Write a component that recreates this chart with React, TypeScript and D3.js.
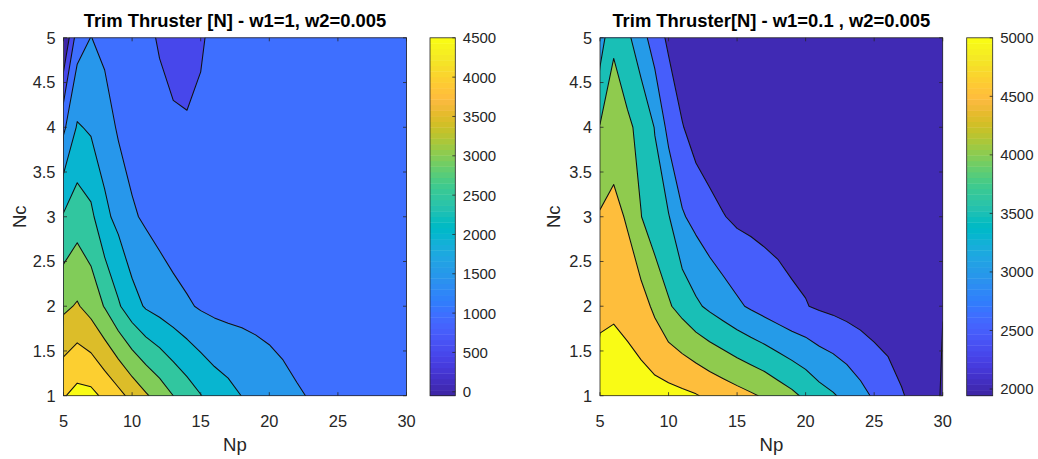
import React from "react";
import * as d3 from "d3";

// ---------- data ----------
const npValues = [5, 6, 7, 8, 9, 10, 11, 12, 13, 14, 15, 16, 17, 18, 19, 20, 21, 22, 23, 24, 25, 26, 27, 28, 29, 30];
const ncValues = [1, 2, 3, 4, 5];

// Left panel (w1=1, w2=0.005): one array per Nc row, values for Np = 5..30
const leftNc1 = [4460, 4656, 4632, 4400, 4150, 3850, 3560, 3290, 3000, 2754, 2517, 2300, 2160, 1991, 1886, 1781, 1676, 1570, 1460, 1420, 1390, 1370, 1350, 1330, 1320, 1310];
const leftNc2 = [3400, 3545, 3316, 2970, 2560, 2200, 1948, 1819, 1689, 1564, 1447, 1380, 1345, 1345, 1318, 1288, 1236, 1103, 1150, 1170, 1180, 1190, 1200, 1205, 1210, 1210];
const leftNc3 = [2550, 2776, 2614, 2115, 1860, 1560, 1431, 1304, 1178, 1100, 1150, 1200, 1220, 1230, 1240, 1245, 1250, 1240, 1235, 1240, 1250, 1255, 1260, 1265, 1270, 1270];
const leftNc4 = [1400, 2050, 1930, 1744, 1436, 1310, 1300, 1200, 1150, 1080, 1150, 1200, 1220, 1230, 1240, 1250, 1255, 1260, 1260, 1265, 1270, 1275, 1280, 1285, 1290, 1290];
const leftNc5 = [-50, 1270, 1510, 1363, 1250, 1230, 1150, 940, 650, 660, 908, 1200, 1220, 1230, 1240, 1250, 1260, 1265, 1270, 1275, 1280, 1285, 1290, 1295, 1300, 1300];

// Right panel (w1=0.1, w2=0.005)
const rightNc1 = [5350, 5400, 5250, 5200, 5180, 5160, 5103, 5030, 4905, 4795, 4680, 4565, 4443, 4270, 4108, 3908, 3690, 3547, 3366, 3151, 2936, 2742, 2548, 2330, 2228, 1943];
const rightNc2 = [4850, 4900, 4840, 4700, 4400, 4056, 3821, 3581, 3405, 3245, 3080, 2935, 2803, 2683, 2570, 2520, 2440, 2384, 2320, 2263, 2209, 2192, 2068, 2100, 2060, 2013];
const rightNc3 = [4541, 4669, 4440, 4010, 3700, 3530, 3050, 2850, 2669, 2520, 2413, 2377, 2344, 2331, 2337, 2300, 2280, 2260, 2250, 2240, 2230, 2220, 2200, 2190, 2180, 2170];
const rightNc4 = [4026, 4200, 4100, 3850, 3480, 2850, 2530, 2267, 2150, 2100, 2150, 2150, 2160, 2160, 2170, 2170, 2180, 2180, 2190, 2190, 2200, 2200, 2200, 2190, 2180, 2170];
const rightNc5 = [3250, 3940, 3600, 3210, 2744, 2413, 2100, 2200, 2150, 2150, 2160, 2160, 2170, 2170, 2180, 2180, 2190, 2190, 2190, 2200, 2200, 2190, 2190, 2180, 2170, 2160];

const leftLevels = [500, 1000, 1500, 2000, 2500, 3000, 3500, 4000, 4500];
const rightLevels = [2000, 2500, 3000, 3500, 4000, 4500, 5000];
const leftColorbarTicks = [0, 500, 1000, 1500, 2000, 2500, 3000, 3500, 4000, 4500];
const rightColorbarTicks = [2000, 2500, 3000, 3500, 4000, 4500, 5000];
const npTicks = [5, 10, 15, 20, 25, 30];
const ncTicks = [1, 1.5, 2, 2.5, 3, 3.5, 4, 4.5, 5];
const leftTitle = "Trim Thruster [N] - w1=1, w2=0.005";
const rightTitle = "Trim Thruster[N] - w1=0.1 , w2=0.005";

// ---------- colormap (MATLAB parula, 64 entries) ----------
const PARULA: number[][] = [
  [0.2422, 0.1504, 0.6603], [0.2504, 0.165, 0.7076], [0.2578, 0.1818, 0.7511], [0.2647, 0.1978, 0.7952],
  [0.2706, 0.2147, 0.8364], [0.2751, 0.2342, 0.871], [0.2783, 0.2559, 0.8991], [0.2803, 0.2782, 0.9221],
  [0.2813, 0.3006, 0.9414], [0.281, 0.3228, 0.9579], [0.2795, 0.3447, 0.9717], [0.276, 0.3667, 0.9829],
  [0.2699, 0.3892, 0.9906], [0.2602, 0.4123, 0.9952], [0.244, 0.4358, 0.9988], [0.2206, 0.4603, 0.9973],
  [0.1963, 0.4847, 0.9892], [0.1834, 0.5074, 0.9798], [0.1786, 0.5289, 0.9682], [0.1764, 0.5499, 0.952],
  [0.1687, 0.5703, 0.9359], [0.154, 0.5902, 0.9218], [0.146, 0.6091, 0.9079], [0.138, 0.6276, 0.8973],
  [0.1248, 0.6459, 0.8883], [0.1113, 0.6635, 0.8763], [0.0952, 0.6798, 0.8598], [0.0689, 0.6948, 0.8394],
  [0.0297, 0.7082, 0.8163], [0.0036, 0.7203, 0.7917], [0.0067, 0.7312, 0.766], [0.0433, 0.7411, 0.7394],
  [0.0964, 0.75, 0.712], [0.1408, 0.7584, 0.6842], [0.1717, 0.767, 0.6554], [0.1938, 0.7758, 0.6251],
  [0.2161, 0.7843, 0.5923], [0.247, 0.7918, 0.5567], [0.2906, 0.7973, 0.5188], [0.3406, 0.8008, 0.4789],
  [0.3909, 0.8029, 0.4354], [0.4456, 0.8024, 0.3909], [0.5044, 0.7993, 0.348], [0.5616, 0.7942, 0.3045],
  [0.6174, 0.7876, 0.2612], [0.672, 0.7793, 0.2227], [0.7242, 0.7698, 0.191], [0.7738, 0.7598, 0.1646],
  [0.8203, 0.7498, 0.1535], [0.8634, 0.7406, 0.1596], [0.9035, 0.733, 0.1774], [0.9393, 0.7288, 0.21],
  [0.9728, 0.7298, 0.2394], [0.9956, 0.7434, 0.2371], [0.997, 0.7659, 0.2199], [0.9952, 0.7893, 0.2028],
  [0.9892, 0.8136, 0.1885], [0.9786, 0.8386, 0.1766], [0.9676, 0.8639, 0.1643], [0.961, 0.889, 0.1537],
  [0.9597, 0.9135, 0.1423], [0.9628, 0.9373, 0.1265], [0.9691, 0.9606, 0.1064], [0.9769, 0.9839, 0.0805],
];
const parulaHex = (k: number) => {
  const c = PARULA[Math.max(0, Math.min(63, k))];
  return d3.rgb(c[0] * 255, c[1] * 255, c[2] * 255).formatHex();
};

const FONT = "'Liberation Sans', Arial, Helvetica, sans-serif";
const AXIS_COLOR = "#262626";

type PanelProps = {
  id: string;
  rows: number[][];
  levels: number[];
  cbTicks: number[];
  title: string;
  px0: number;
  px1: number;
  cbx0: number;
  cbx1: number;
  ncLabelX: number;
};

function Panel({ id, rows, levels, cbTicks, title, px0, px1, cbx0, cbx1, ncLabelX }: PanelProps) {
  const py0 = 395.7;
  const py1 = 37.8;
  const n = npValues.length;
  const m = ncValues.length;
  const x = d3.scaleLinear().domain([npValues[0], npValues[n - 1]]).range([px0, px1]);
  const y = d3.scaleLinear().domain([ncValues[0], ncValues[m - 1]]).range([py0, py1]);
  const values = rows.flat();
  const cmin = d3.min(values) as number;
  const cmax = d3.max(levels) as number;
  const colorOf = (v: number) => parulaHex(Math.floor(((v - cmin) / (cmax - cmin)) * 64));

  const gx = d3.scaleLinear().domain([0.5, n - 0.5]).range([npValues[0], npValues[n - 1]]);
  const gy = d3.scaleLinear().domain([0.5, m - 0.5]).range([ncValues[0], ncValues[m - 1]]);
  const proj = d3.geoTransform({
    point(this: any, a: number, b: number) {
      this.stream.point(x(gx(a)), y(gy(b)));
    },
  });
  const path = d3.geoPath(proj);
  const contours = d3.contours().size([n, m]).thresholds(levels)(values);

  const cb = d3.scaleLinear().domain([cmin, cmax]).range([py0, py1]);
  const bands = d3.range(64);
  const tickLen = 3.5;

  return (
    <g>
      <defs>
        <clipPath id={`clip-${id}`}>
          <rect x={px0} y={py1} width={px1 - px0} height={py0 - py1} />
        </clipPath>
      </defs>
      <g clipPath={`url(#clip-${id})`}>
        <rect x={px0} y={py1} width={px1 - px0} height={py0 - py1} fill={colorOf(cmin)} />
        {contours.map((c, i) => (
          <path key={i} d={path(c as any) || ""} fill={colorOf(c.value)} stroke="#111" strokeWidth={1.05} strokeLinejoin="round" />
        ))}
      </g>
      {/* frame */}
      <rect x={px0} y={py1} width={px1 - px0} height={py0 - py1} fill="none" stroke={AXIS_COLOR} strokeWidth={0.8} />
      {npTicks.map((t) => (
        <g key={`xt${t}`}>
          <line x1={x(t)} x2={x(t)} y1={py0} y2={py0 - tickLen} stroke={AXIS_COLOR} strokeWidth={0.8} />
          <line x1={x(t)} x2={x(t)} y1={py1} y2={py1 + tickLen} stroke={AXIS_COLOR} strokeWidth={0.8} />
          <text x={x(t)} y={426.5} textAnchor="middle" fontSize={16.4} fill={AXIS_COLOR} fontFamily={FONT}>
            {t}
          </text>
        </g>
      ))}
      {ncTicks.map((t) => (
        <g key={`yt${t}`}>
          <line x1={px0} x2={px0 + tickLen} y1={y(t)} y2={y(t)} stroke={AXIS_COLOR} strokeWidth={0.8} />
          <line x1={px1} x2={px1 - tickLen} y1={y(t)} y2={y(t)} stroke={AXIS_COLOR} strokeWidth={0.8} />
          <text x={px0 - 8} y={y(t)} dy="0.36em" textAnchor="end" fontSize={16.4} fill={AXIS_COLOR} fontFamily={FONT}>
            {t}
          </text>
        </g>
      ))}
      <text x={(px0 + px1) / 2} y={450.5} textAnchor="middle" fontSize={18.6} fill={AXIS_COLOR} fontFamily={FONT}>
        Np
      </text>
      <text
        transform={`translate(${ncLabelX},${(py0 + py1) / 2}) rotate(-90)`}
        textAnchor="middle"
        fontSize={18.6}
        fill={AXIS_COLOR}
        fontFamily={FONT}
      >
        Nc
      </text>
      <text x={(px0 + px1) / 2} y={26.5} textAnchor="middle" fontSize={18.4} fontWeight="bold" fill="#000" fontFamily={FONT}>
        {title}
      </text>
      {/* colorbar */}
      {bands.map((k) => {
        const v0 = cmin + (k / 64) * (cmax - cmin);
        const v1 = cmin + ((k + 1) / 64) * (cmax - cmin);
        return (
          <rect key={`cb${k}`} x={cbx0} y={cb(v1)} width={cbx1 - cbx0} height={cb(v0) - cb(v1) + 0.4} fill={parulaHex(k)} />
        );
      })}
      <rect x={cbx0} y={py1} width={cbx1 - cbx0} height={py0 - py1} fill="none" stroke={AXIS_COLOR} strokeWidth={0.8} />
      {cbTicks.map((t) => (
        <g key={`cbt${t}`}>
          <line x1={cbx1} x2={cbx1 - 3} y1={cb(t)} y2={cb(t)} stroke={AXIS_COLOR} strokeWidth={0.8} />
          <text x={cbx1 + 7.5} y={cb(t)} dy="0.36em" fontSize={15} fill={AXIS_COLOR} fontFamily={FONT}>
            {t}
          </text>
        </g>
      ))}
    </g>
  );
}

export default function App() {
  const leftRows = [leftNc1, leftNc2, leftNc3, leftNc4, leftNc5];
  const rightRows = [rightNc1, rightNc2, rightNc3, rightNc4, rightNc5];
  return (
    <svg
      width={1038}
      height={459}
      style={{ position: "absolute", left: 0, top: 0, display: "block", background: "#fff" }}
    >
      <rect x={0} y={0} width={1038} height={459} fill="#fff" />
      <Panel
        id="left"
        rows={leftRows}
        levels={leftLevels}
        cbTicks={leftColorbarTicks}
        title={leftTitle}
        px0={63.5}
        px1={406.5}
        cbx0={430}
        cbx1={455.3}
        ncLabelX={25.5}
      />
      <Panel
        id="right"
        rows={rightRows}
        levels={rightLevels}
        cbTicks={rightColorbarTicks}
        title={rightTitle}
        px0={600}
        px1={942.7}
        cbx0={966.7}
        cbx1={992.7}
        ncLabelX={559.5}
      />
    </svg>
  );
}
